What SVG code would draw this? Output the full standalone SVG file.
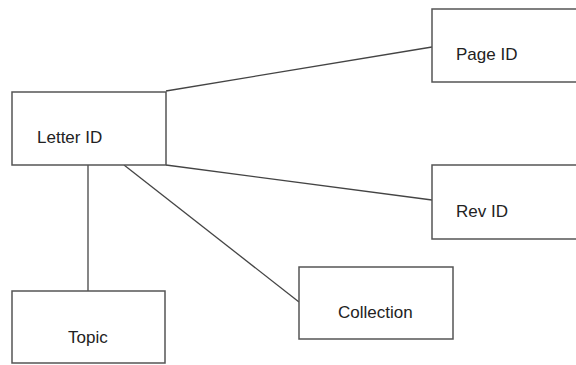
<svg xmlns="http://www.w3.org/2000/svg" width="576" height="365" viewBox="0 0 576 365">
<style>
.box{fill:#fff;stroke:#555;stroke-width:1.5}
.lbl{font-family:"Liberation Sans",Arial,sans-serif;font-size:17px;fill:#222}
.con{stroke:#444;stroke-width:1.3;fill:none}
</style>
<rect width="576" height="365" fill="#fff"/>
<g id="connectors">
<line class="con" x1="166" y1="91" x2="432" y2="47"/>
<line class="con" x1="166" y1="165" x2="432" y2="200"/>
<line class="con" x1="124" y1="165" x2="299" y2="302"/>
<line class="con" x1="88" y1="165" x2="88" y2="291"/>
</g>
<g id="letter-id"><rect class="box" x="12" y="92" width="154" height="73"/><text class="lbl" x="37" y="143">Letter ID</text></g>
<g id="page-id"><rect class="box" x="432" y="9" width="150" height="73"/><text class="lbl" x="456" y="60">Page ID</text></g>
<g id="rev-id"><rect class="box" x="432" y="165" width="150" height="74"/><text class="lbl" x="456" y="217">Rev ID</text></g>
<g id="collection"><rect class="box" x="299" y="267" width="154" height="72"/><text class="lbl" x="338" y="318">Collection</text></g>
<g id="topic"><rect class="box" x="12" y="291" width="153" height="72"/><text class="lbl" x="68" y="343">Topic</text></g>
</svg>
